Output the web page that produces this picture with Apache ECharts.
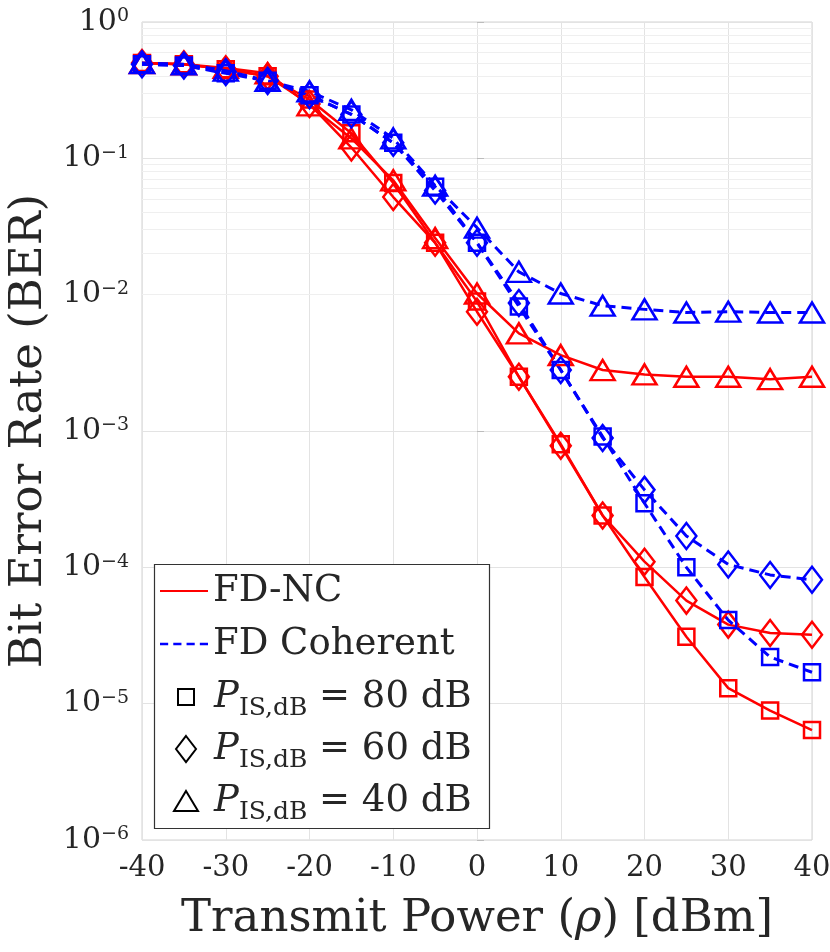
<!DOCTYPE html>
<html>
<head>
<meta charset="utf-8">
<title>BER vs transmit power</title>
<script src="https://cdn.jsdelivr.net/npm/echarts@6/dist/echarts.min.js"></script>
<style>
  html, body { margin: 0; padding: 0; background: #fff; }
  #main { width: 830px; height: 952px; }
</style>
</head>
<body>
<div id="main"></div>
<script>
// transmit power rho [dBm]
const powers = [-40, -35, -30, -25, -20, -15, -10, -5, 0, 5, 10, 15, 20, 25, 30, 35, 40]

// FD-NC (red, solid)
const ncSquare = [0.50, 0.49, 0.45, 0.40, 0.27, 0.153, 0.066, 0.024, 0.0089, 0.0025, 0.00080, 0.00024, 8.5e-5, 3.1e-5, 1.3e-5, 8.9e-6, 6.4e-6]
const ncDiamond = [0.50, 0.49, 0.45, 0.40, 0.25, 0.12, 0.052, 0.024, 0.0075, 0.0025, 0.00078, 0.00024, 1.1e-4, 5.7e-5, 3.8e-5, 3.3e-5, 3.2e-5]
const ncTriangle = [0.50, 0.49, 0.46, 0.42, 0.245, 0.14, 0.069, 0.026, 0.0102, 0.0052, 0.0036, 0.0028, 0.0026, 0.0025, 0.0025, 0.0024, 0.0025]

// FD Coherent (blue, dashed)
const coSquare = [0.49, 0.48, 0.42, 0.37, 0.29, 0.21, 0.13, 0.062, 0.024, 0.0082, 0.0028, 0.00091, 0.000295, 0.000100, 4.1e-5, 2.2e-5, 1.7e-5]
const coDiamond = [0.49, 0.48, 0.43, 0.37, 0.29, 0.21, 0.13, 0.058, 0.024, 0.0087, 0.0028, 0.00089, 0.00037, 0.00017, 0.000105, 8.8e-5, 8.1e-5]
const coTriangle = [0.50, 0.49, 0.44, 0.37, 0.31, 0.227, 0.14, 0.063, 0.031, 0.0147, 0.0102, 0.0083, 0.0078, 0.0074, 0.0075, 0.0074, 0.0074]

// log axis decades and the 2..9 minor grid steps between them
const decades = [1e-6, 1e-5, 1e-4, 1e-3, 1e-2, 1e-1]
const minorSteps = [2, 3, 4, 5, 6, 7, 8, 9]
const isLevels = ['80', '60', '40']

const FONT = 'DejaVu Serif'
const INK = '#262626'
const RED = '#ff0000'
const BLUE = '#0000ff'

const markers = {
  square: { symbol: 'rect', size: [16, 16] },
  diamond: { symbol: 'diamond', size: [20, 26] },
  triangle: { symbol: 'triangle', size: [24, 20] },
}

// legend icons drawn in a 36x28 frame (the two leading moveTo's pin the frame)
const legendIcons = {
  P80: 'path://M0,0M36,28M5,6H21V22H5Z',
  P60: 'path://M0,0M36,28M13,1L23,14L13,27L3,14Z',
  P40: 'path://M0,0M36,28M13,4L25,24L1,24Z',
}

const minorValues = []
decades.forEach(d => {
  minorSteps.forEach(s => minorValues.push(d * s))
})

function pairs(values) {
  return powers.map((p, i) => [p, values[i]])
}

function curve(name, values, color, dashed, marker) {
  return {
    name,
    type: 'line',
    data: pairs(values),
    symbol: markers[marker].symbol,
    symbolSize: markers[marker].size,
    showAllSymbol: true,
    lineStyle: {
      color,
      width: dashed ? 3 : 2.5,
      type: dashed ? [10, 6] : 'solid'
    },
    itemStyle: {
      color: 'rgba(255,255,255,0)',
      borderColor: color,
      borderWidth: 2.5
    },
    emphasis: { disabled: true },
    z: 2
  }
}

function legendOnly(name) {
  return { name, type: 'line', data: [], symbol: 'none' }
}

const chart = echarts.init(document.getElementById('main'), null, {
  width: 830,
  height: 952
})

const option = {
  animation: false,
  backgroundColor: '#fff',
  grid: {
    left: 142,
    right: 18,
    top: 22,
    bottom: 112,
    show: true,
    borderColor: '#d2d2d2',
    borderWidth: 1,
    outerBoundsMode: 'none'
  },
  xAxis: {
    type: 'value',
    min: -40,
    max: 40,
    interval: 10,
    axisLine: { show: false },
    axisTick: { show: false },
    splitLine: { lineStyle: { color: '#e3e3e3', width: 1 } },
    axisLabel: { margin: 14, fontFamily: FONT, fontSize: 29, color: INK },
    name: 'Transmit Power ({r|ρ}) [dBm]',
    nameLocation: 'middle',
    nameGap: 57,
    nameTextStyle: {
      fontFamily: FONT,
      fontSize: 45,
      color: INK,
      rich: {
        r: { fontFamily: FONT, fontSize: 45, fontStyle: 'italic', color: INK }
      }
    }
  },
  yAxis: {
    type: 'log',
    logBase: 10,
    min: 1e-6,
    max: 1,
    splitNumber: 6,
    axisLine: { show: false },
    axisTick: { show: true, inside: true, length: 7, lineStyle: { color: '#bcbcbc' } },
    splitLine: { lineStyle: { color: '#e3e3e3', width: 1 } },
    axisLabel: {
      margin: 13,
      formatter: v => {
        const e = Math.round(Math.log10(v))
        return '{b|10}{e|' + (e < 0 ? '\u2212' + (-e) : e) + '}'
      },
      rich: {
        b: { fontFamily: FONT, fontSize: 30, lineHeight: 30, color: INK },
        e: { fontFamily: FONT, fontSize: 19, lineHeight: 17, verticalAlign: 'top', color: INK }
      }
    },
    name: 'Bit Error Rate (BER)',
    nameLocation: 'middle',
    nameGap: 88,
    nameTextStyle: { fontFamily: FONT, fontSize: 45, color: INK }
  },
  legend: [{
    orient: 'vertical',
    left: 160,
    top: 566,
    padding: 0,
    itemWidth: 48,
    itemHeight: 12,
    itemGap: 3,
    selectedMode: false,
    textStyle: { fontFamily: FONT, fontSize: 37, lineHeight: 50, color: INK },
    data: [{
      name: 'FD-NC',
      icon: 'path://M0,0H48V2.2H0Z',
      itemStyle: { color: RED, borderWidth: 0 }
    }, {
      name: 'FD Coherent',
      icon: 'path://M0,0H8V2.5H0Z M13,0H21V2.5H13Z M26,0H34V2.5H26Z M39,0H47V2.5H39Z',
      itemStyle: { color: BLUE, borderWidth: 0 }
    }]
  }, {
    orient: 'vertical',
    left: 172,
    top: 673,
    padding: 0,
    itemWidth: 36,
    itemHeight: 28,
    itemGap: 4,
    selectedMode: false,
    formatter: name => '{i|P}{s|IS,dB}{t| = ' + name.slice(1) + ' dB}',
    textStyle: {
      fontFamily: FONT,
      fontSize: 37,
      color: INK,
      rich: {
        i: { fontFamily: FONT, fontSize: 37, fontStyle: 'italic', lineHeight: 48, color: INK },
        s: { fontFamily: FONT, fontSize: 25, lineHeight: 25, padding: [23, 0, 0, 0], verticalAlign: 'top', color: INK },
        t: { fontFamily: FONT, fontSize: 37, lineHeight: 48, color: INK }
      }
    },
    data: isLevels.map(level => ({
      name: 'P' + level,
      icon: legendIcons['P' + level],
      itemStyle: { color: 'rgba(0,0,0,0)', borderColor: '#000', borderWidth: 2 }
    }))
  }],
  graphic: [{
    type: 'rect',
    z: 3,
    silent: true,
    shape: { x: 154.5, y: 564.5, width: 335, height: 264 },
    style: { fill: '#fff', stroke: '#333', lineWidth: 1.2 }
  }],
  series: [
    {
      name: 'minor grid',
      type: 'line',
      data: [],
      silent: true,
      markLine: {
        silent: true,
        z: 1,
        animation: false,
        symbol: ['none', 'none'],
        label: { show: false },
        emphasis: { disabled: true },
        lineStyle: { color: '#efefef', width: 1, type: 'solid' },
        data: minorValues.map(v => ({ yAxis: v }))
      }
    },
    curve('FD-NC 80 dB', ncSquare, RED, false, 'square'),
    curve('FD-NC 60 dB', ncDiamond, RED, false, 'diamond'),
    curve('FD-NC 40 dB', ncTriangle, RED, false, 'triangle'),
    curve('FD Coherent 80 dB', coSquare, BLUE, true, 'square'),
    curve('FD Coherent 60 dB', coDiamond, BLUE, true, 'diamond'),
    curve('FD Coherent 40 dB', coTriangle, BLUE, true, 'triangle'),
    legendOnly('FD-NC'),
    legendOnly('FD Coherent'),
    legendOnly('P80'),
    legendOnly('P60'),
    legendOnly('P40')
  ]
}

chart.setOption(option)
</script>
</body>
</html>
